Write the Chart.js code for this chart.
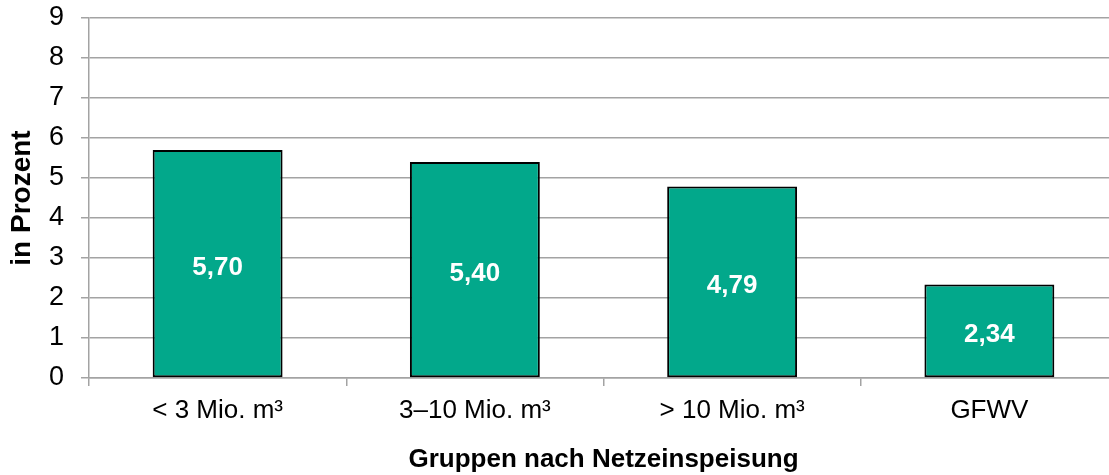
<!DOCTYPE html>
<html lang="de">
<head>
<meta charset="utf-8">
<title>Netzeinspeisung</title>
<script src="https://cdn.jsdelivr.net/npm/chart.js@4/dist/chart.umd.min.js"></script>
<style>
  html, body { margin: 0; padding: 0; background: #fff; overflow: hidden; }
  #wrap { position: relative; width: 1118px; height: 475px; }
</style>
</head>
<body>
<div id="wrap"><canvas id="chart"></canvas></div>
<script>
// Gruppen nach Netzeinspeisung, Werte in Prozent
const categories = ['< 3 Mio. m³', '3–10 Mio. m³', '> 10 Mio. m³', 'GFWV'];
const values = [5.70, 5.40, 4.79, 2.34];
const yTicks = [0, 1, 2, 3, 4, 5, 6, 7, 8, 9];

const FONT = '"Liberation Sans", Arial, Helvetica, sans-serif';
const GRID = '#a3a3a3';

// Wert mittig in jeden Balken schreiben (deutsches Dezimalkomma)
const valueLabels = {
  id: 'valueLabels',
  afterDatasetsDraw(chart) {
    const ctx = chart.ctx;
    const meta = chart.getDatasetMeta(0);
    ctx.save();
    ctx.font = 'bold 26px ' + FONT;
    ctx.fillStyle = '#ffffff';
    ctx.textAlign = 'center';
    ctx.textBaseline = 'middle';
    meta.data.forEach((bar, i) => {
      const p = bar.getProps(['x', 'y', 'base'], true);
      const text = values[i].toFixed(2).replace('.', ',');
      ctx.fillText(text, p.x, (p.y + p.base) / 2 + 4);
    });
    ctx.restore();
  }
};

new Chart(document.getElementById('chart'), {
  type: 'bar',
  data: {
    labels: categories,
    datasets: [{
      data: values,
      backgroundColor: '#02a88b',
      borderColor: '#000000',
      borderWidth: 2,
      borderSkipped: false,
      barPercentage: 0.505,
      categoryPercentage: 1.0
    }]
  },
  options: {
    responsive: true,
    maintainAspectRatio: false,
    animation: false,
    layout: { padding: { top: 18, right: 0, bottom: 0, left: 0 } },
    plugins: {
      legend: { display: false },
      tooltip: { enabled: false }
    },
    scales: {
      x: {
        grid: {
          offset: true,
          drawOnChartArea: false,
          color: GRID,
          lineWidth: 1.5,
          tickLength: 8
        },
        border: { color: GRID, width: 1.5 },
        ticks: {
          color: '#000',
          font: { family: FONT, size: 26 },
          padding: 9,
          maxRotation: 0,
          autoSkip: false
        },
        title: {
          display: true,
          text: 'Gruppen nach Netzeinspeisung',
          color: '#000',
          font: { family: FONT, size: 26, weight: 'bold' },
          padding: { top: 0, bottom: 0 }
        },
        afterFit(scale) {
          scale.height = 97;
          scale.paddingLeft = 0;
          scale.paddingRight = 0;
        }
      },
      y: {
        min: 0,
        max: 9,
        afterBuildTicks(scale) { scale.ticks = yTicks.map(v => ({ value: v })); },
        grid: {
          color: GRID,
          lineWidth: 1.5,
          tickLength: 8
        },
        border: { color: GRID, width: 1.5 },
        ticks: {
          color: '#000',
          font: { family: FONT, size: 27 },
          padding: 17
        },
        title: {
          display: true,
          text: 'in Prozent',
          color: '#000',
          font: { family: FONT, size: 28, weight: 'bold' },
          padding: { top: 5, bottom: 0 }
        },
        afterFit(scale) {
          scale.width = 89;
          scale.paddingTop = 0;
          scale.paddingBottom = 0;
        }
      }
    }
  },
  plugins: [valueLabels]
});
</script>
</body>
</html>
